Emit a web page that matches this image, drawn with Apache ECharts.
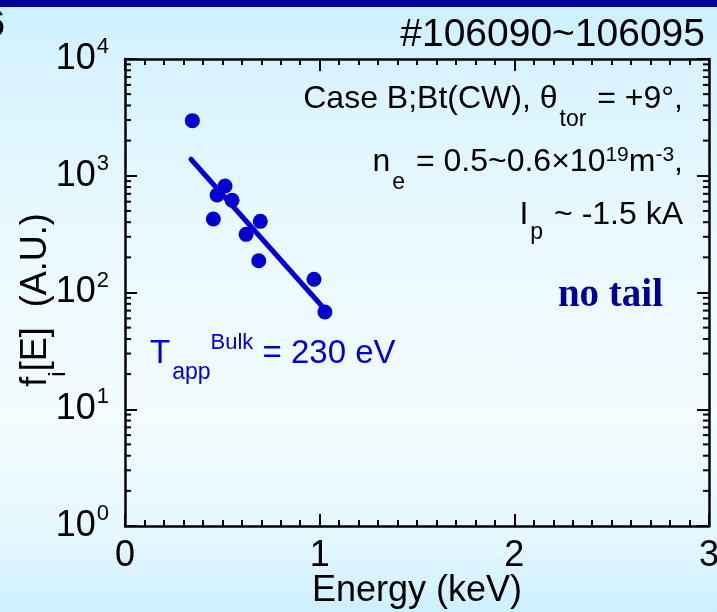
<!DOCTYPE html>
<html><head><meta charset="utf-8">
<script src="https://cdn.jsdelivr.net/npm/echarts@6/dist/echarts.min.js"></script>
<style>
html,body{margin:0;padding:0;width:717px;height:612px;overflow:hidden;}
body{background:linear-gradient(to bottom,#ccf0ff 0%,#d9f4ff 12%,#ebf9ff 40%,#f3fcff 68%,#e4f7ff 88%,#cdf0ff 100%);}
#bar{position:absolute;left:0;top:0;width:717px;height:7px;background:#000099;}
#c{position:absolute;left:0;top:0;width:717px;height:612px;}
</style></head><body>
<div id="c"></div><div id="bar"></div>
<script>
// Measured ion energy distribution points (keV, A.U.)
const energy = [0.346, 0.514, 0.473, 0.550, 0.454, 0.695, 0.622, 0.687, 0.971, 1.027];
const flux   = [2965, 817, 684, 616, 426, 407, 315, 187, 130, 68];
// Exponential fit (T = 230 eV) end points
const fitEnergy = [0.339, 1.010];
const fitFlux   = [1384, 77];
// Axis ticks
const xMin = 0, xMax = 3, xStep = 1;
const yMin = 1, yMax = 10000;
const yMinorValues = [2,3,4,5,6,7,8,9,20,30,40,50,60,70,80,90,200,300,400,500,600,700,800,900,2000,3000,4000,5000,6000,7000,8000,9000];

const FONT = '"Liberation Sans", Arial, sans-serif';
const BLUE = '#0000d0';

const chart = echarts.init(document.getElementById('c'), null, {renderer: 'canvas'});

const axisLine = {show: true, onZero: false, lineStyle: {color: '#000', width: 2.5}};
const xAxisBase = {
  type: 'value', min: xMin, max: xMax, interval: xStep,
  axisLine: axisLine,
  axisTick: {show: true, inside: true, length: 12, lineStyle: {color: '#000', width: 2}},
  minorTick: {show: true, splitNumber: 10, length: 6, lineStyle: {color: '#000', width: 2}},
  splitLine: {show: false}, minorSplitLine: {show: false}
};
const yAxisBase = {
  type: 'log', logBase: 10, min: yMin, max: yMax,
  axisLine: axisLine,
  axisTick: {show: true, inside: true, length: 12, lineStyle: {color: '#000', width: 2}},
  splitLine: {show: false}
};

const option = {
  backgroundColor: 'transparent',
  animation: false,
  grid: {left: 125, right: 8, top: 59, bottom: 86, containLabel: false, outerBoundsMode: 'none'},
  xAxis: [
    Object.assign({}, xAxisBase, {
      position: 'bottom',
      axisLabel: {show: true, margin: 12, fontSize: 36, color: '#000', fontFamily: FONT},
      name: 'Energy (keV)', nameLocation: 'middle', nameGap: 47, nameMoveOverlap: false,
      nameTextStyle: {fontSize: 36, color: '#000', fontFamily: FONT}
    }),
    Object.assign({}, xAxisBase, {position: 'top', axisLabel: {show: false}})
  ],
  yAxis: [
    Object.assign({}, yAxisBase, {
      position: 'left',
      axisLabel: {
        show: true, margin: 16, color: '#000', fontFamily: FONT,
        formatter: function (v) { return '{b|10}{s|' + Math.round(Math.log10(v)) + '}'; },
        rich: {
          b: {fontSize: 36, color: '#000', fontFamily: FONT},
          s: {fontSize: 22, color: '#000', fontFamily: FONT, padding: [0, 0, 24, 1]}
        }
      }
    }),
    Object.assign({}, yAxisBase, {position: 'right', axisLabel: {show: false}})
  ],
  series: [
    {
      type: 'custom', xAxisIndex: 0, yAxisIndex: 0, silent: true, clip: false, z: 1,
      data: yMinorValues.map(function (v) { return [xMin, v]; }),
      renderItem: function (params, api) {
        const pl = api.coord([xMin, api.value(1)]);
        const pr = api.coord([xMax, api.value(1)]);
        return {type: 'group', children: [
          {type: 'line', shape: {x1: pl[0], y1: pl[1], x2: pl[0] + 6, y2: pl[1]}, style: {stroke: '#000', lineWidth: 2}},
          {type: 'line', shape: {x1: pr[0], y1: pr[1], x2: pr[0] - 6, y2: pr[1]}, style: {stroke: '#000', lineWidth: 2}}
        ]};
      }
    },
    {
      type: 'line', xAxisIndex: 0, yAxisIndex: 0, z: 3,
      data: fitEnergy.map(function (e, i) { return [e, fitFlux[i]]; }),
      symbol: 'none', lineStyle: {color: BLUE, width: 5, cap: 'round'}
    },
    {
      type: 'scatter', xAxisIndex: 0, yAxisIndex: 0, z: 4,
      data: energy.map(function (e, i) { return [e, flux[i]]; }),
      symbol: 'circle', symbolSize: 15, itemStyle: {color: BLUE, opacity: 1}
    }
  ],
  graphic: [
    {type: 'text', x: 5, y: 26, style: {text: '6', align: 'right', verticalAlign: 'middle', fontSize: 37, fontFamily: FONT, fill: '#000'}},
    {type: 'text', x: 705, y: 35, style: {text: '#106090~106095', align: 'right', verticalAlign: 'middle', fontSize: 39, fontFamily: FONT, fill: '#000'}},
    {type: 'text', x: 36, y: 300, rotation: Math.PI / 2, style: {
      text: 'f{i|i}[E]  (A.U.)', align: 'center', verticalAlign: 'middle', fontSize: 36, fontFamily: FONT, fill: '#000',
      rich: {i: {fontSize: 24, fontFamily: FONT, fill: '#000', padding: [44, 0, 0, 0]}}
    }},
    {type: 'text', x: 683, y: 99, style: {
      text: 'Case B;Bt(CW), θ{sub|tor} = +9°,', align: 'right', verticalAlign: 'middle', fontSize: 32, fontFamily: FONT, fill: '#000',
      rich: {sub: {fontSize: 23, fontFamily: FONT, fill: '#000', padding: [42, 2, 0, 2]}}
    }},
    {type: 'text', x: 683, y: 162, style: {
      text: 'n{sub|e} = 0.5~0.6×10{sup|19}m{sup|-3},', align: 'right', verticalAlign: 'middle', fontSize: 32, fontFamily: FONT, fill: '#000',
      rich: {
        sub: {fontSize: 23, fontFamily: FONT, fill: '#000', padding: [42, 2, 0, 2]},
        sup: {fontSize: 21, fontFamily: FONT, fill: '#000', padding: [0, 0, 14, 0]}
      }
    }},
    {type: 'text', x: 683, y: 215, style: {
      text: 'I{sub|p} ~ -1.5 kA', align: 'right', verticalAlign: 'middle', fontSize: 32, fontFamily: FONT, fill: '#000',
      rich: {sub: {fontSize: 23, fontFamily: FONT, fill: '#000', padding: [36, 2, 0, 2]}}
    }},
    {type: 'text', x: 663, y: 296, style: {
      text: 'no tail', align: 'right', verticalAlign: 'middle', fontSize: 39, fontWeight: 'bold', fontFamily: '"Liberation Serif", "Times New Roman", serif', fill: '#000099'
    }},
    {type: 'text', x: 150, y: 354, style: {
      text: 'T{sub|app}{sup|Bulk} = 230 eV', align: 'left', verticalAlign: 'middle', fontSize: 33, fontFamily: FONT, fill: BLUE,
      rich: {
        sub: {fontSize: 23, fontFamily: FONT, fill: BLUE, padding: [38, 0, 0, 2]},
        sup: {fontSize: 22, fontFamily: FONT, fill: BLUE, padding: [0, 0, 22, 0]}
      }
    }}
  ]
};
chart.setOption(option);
</script>
</body></html>
